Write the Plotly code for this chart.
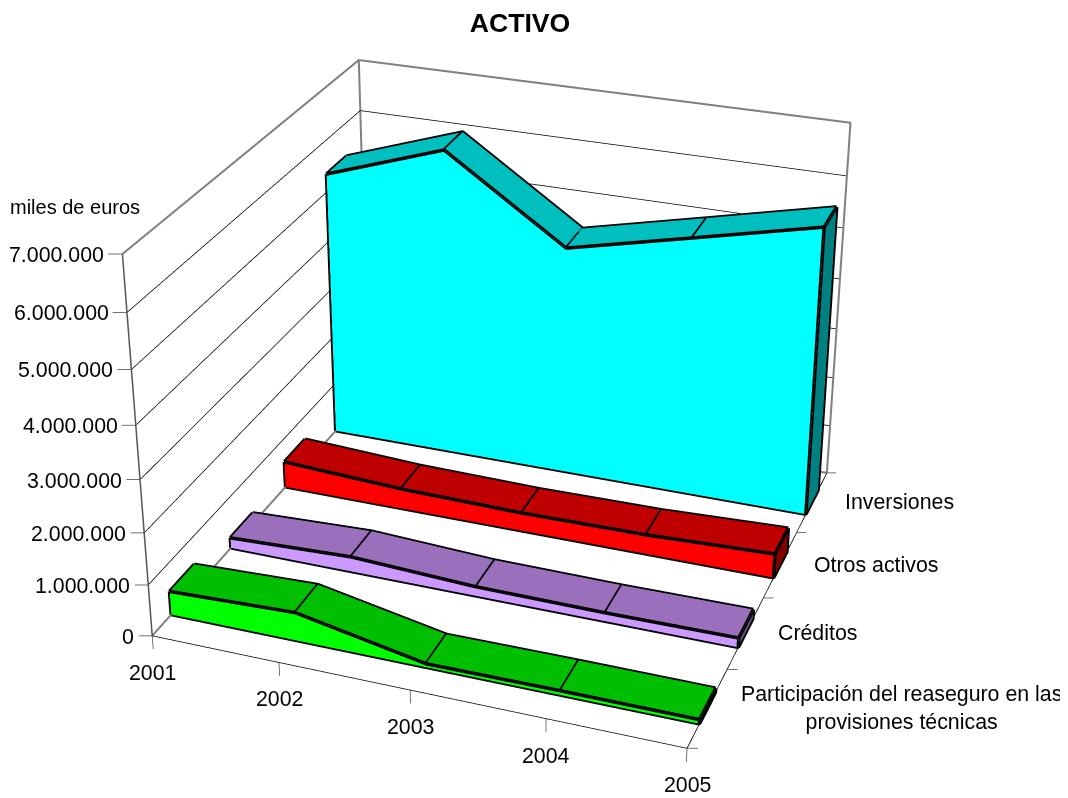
import plotly.graph_objects as go

years = [2001, 2002, 2003, 2004, 2005]
categorias = ["Participación del reaseguro en las<br>provisiones técnicas", "Créditos", "Otros activos", "Inversiones"]
participacion = [462000, 549000, 70000, 84000, 81000]
creditos = [207000, 298000, 185000, 168000, 185000]
otros = [528000, 410000, 371000, 392000, 483000]
inversiones = [5348000, 6143000, 4578000, 5131000, 5688000]
series = [participacion, creditos, otros, inversiones]
front = ["#00FF00", "#CC99FF", "#FF0000", "#00FFFF"]
top = ["#00BF00", "#9A70BD", "#BF0000", "#00BFBF"]
side = ["#008000", "#664D80", "#800000", "#008080"]
z_ticks = [0, 1000000, 2000000, 3000000, 4000000, 5000000, 6000000, 7000000]
z_labels = ["0", "1.000.000", "2.000.000", "3.000.000", "4.000.000", "5.000.000", "6.000.000", "7.000.000"]
depth = 0.2
zmax = 7000000
y_edges = [0, 1, 2, 3, 4]

# page geometry of the scene (viewport height sets the 3D scale)
LW, LH, TOP = 1068, 2048, 658
CX = 500.7

fig = go.Figure()
light = dict(ambient=1, diffuse=0, specular=0, roughness=1, fresnel=0)


def quadmesh(X, Y, Z, col):
    I, J, K = [], [], []
    for q in range(0, len(X), 4):
        I += [q, q]
        J += [q + 1, q + 2]
        K += [q + 2, q + 3]
    fig.add_trace(go.Mesh3d(x=X, y=Y, z=Z, i=I, j=J, k=K, color=col, flatshading=True,
                            lighting=light, hoverinfo="skip"))


def polyline(lx, ly, lz, color, width):
    fig.add_trace(go.Scatter3d(x=lx, y=ly, z=lz, mode="lines", line=dict(color=color, width=width), hoverinfo="skip"))


# walls: grid, frame, axes, ticks
gx, gy, gz = [], [], []
for z in z_ticks[1:-1]:
    gx += [2001, 2001, 2005, None]
    gy += [0, 4, 4, None]
    gz += [z, z, z, None]
polyline(gx, gy, gz, "black", 1.5)
polyline([2001, 2001, 2005, 2005, None, 2001, 2001, None, 2001, 2001, 2005],
         [0, 4, 4, 4, None, 0, 4, None, 4, 4, 4],
         [zmax, zmax, zmax, 0, None, 0, 0, None, zmax, 0, 0], "#808080", 4)
polyline([2001, 2001], [0, 0], [0, zmax], "#555555", 3)
polyline([2001, 2005, 2005], [0, 0, 4], [0, 0, 0], "black", 1.5)
tx, ty, tz = [], [], []
for z in z_ticks:
    tx += [2001, 2001 - 0.09, None]
    ty += [0, -0.033, None]
    tz += [z, z, None]
for yr in years:
    tx += [yr, yr, None]
    ty += [0, 0, None]
    tz += [0, -260000, None]
for e in y_edges:
    tx += [2005, 2005 + 0.07, None]
    ty += [e, e + 0.027, None]
    tz += [0, 0, None]
polyline(tx, ty, tz, "#444444", 1.5)

# ribbons
for n, vals in enumerate(series):
    y0 = n + .5 - depth
    y1 = n + .5 + depth
    X, Y, Z = [], [], []
    for i in range(4):
        X += [years[i], years[i + 1], years[i + 1], years[i]]
        Y += [y0] * 4
        Z += [0, 0, vals[i + 1], vals[i]]
    quadmesh(X, Y, Z, front[n])
    X, Y, Z = [], [], []
    for i in range(4):
        X += [years[i], years[i + 1], years[i + 1], years[i]]
        Y += [y0, y0, y1, y1]
        Z += [vals[i], vals[i + 1], vals[i + 1], vals[i]]
    quadmesh(X, Y, Z, top[n])
    quadmesh([2005] * 4, [y0, y1, y1, y0], [0, 0, vals[4], vals[4]], side[n])
    lx = list(years) + [2005, 2001, 2001, None] + list(years) + [None]
    ly = [y0] * 5 + [y0, y0, y0, None] + [y1] * 5 + [None]
    lz = list(vals) + [0, 0, vals[0], None] + list(vals) + [None]
    for i in range(5):
        lx += [years[i], years[i], None]
        ly += [y0, y1, None]
        lz += [vals[i], vals[i], None]
    lx += [2005, 2005, 2005]
    ly += [y0, y1, y1]
    lz += [0, 0, vals[4]]
    polyline(lx, ly, lz, "black", 7)

fs = 21.33
ann = []
for z, t in zip(z_ticks, z_labels):
    ann.append(dict(x=2001, y=0, z=z, text=t, showarrow=False, xanchor="right", yanchor="middle",
                    xshift=-16, yshift=-1, font=dict(size=fs)))
for yr in years:
    ann.append(dict(x=yr, y=0, z=0, text=str(yr), showarrow=False, xanchor="center", yanchor="middle",
                    yshift=-37, font=dict(size=fs)))
shifts = [194, 72, 95, 87]
for n, c in enumerate(categorias):
    ann.append(dict(x=2005, y=n + .5, z=0, text=c, showarrow=False, xanchor="center", yanchor="middle",
                    xshift=shifts[n], font=dict(size=fs)))

hidden = dict(visible=False, showspikes=False)
fig.update_layout(
    width=LW, height=LH, margin=dict(l=0, r=0, t=0, b=0), showlegend=False, paper_bgcolor="white",
    font=dict(family="Liberation Sans, Arial", color="black"),
    title=dict(text="<b>ACTIVO</b>", x=(520 - 8) / LW, y=1 - (23 - 8 + TOP) / LH, xanchor="center", yanchor="middle",
               font=dict(size=26.67, color="black")),
    annotations=[dict(text="miles de euros", x=(75 - 8) / LW, y=1 - (207 - 8 + TOP) / LH, xref="paper", yref="paper",
                      xanchor="center", yanchor="middle", showarrow=False, font=dict(size=20))],
    scene=dict(
        domain=dict(x=[0, 2 * CX / LW], y=[0, 1]), aspectmode="manual",
        aspectratio=dict(x=0.570 * 5 / 4, y=0.569 * 5 / 4, z=0.429 * 7.8 / 7),
        camera=dict(eye=dict(x=0.788, y=-2.163, z=1.180), center=dict(x=0, y=0, z=0), up=dict(x=0, y=0, z=1)),
        annotations=ann, bgcolor="white",
        xaxis=dict(hidden, range=[2000.5, 2005.5]),
        yaxis=dict(hidden, range=[-0.5, 4.5]),
        zaxis=dict(hidden, range=[-400000, 7400000])))
fig.write_html("out.html", post_script="var g=document.getElementById('{plot_id}');g.style.position='relative';g.style.top='-%dpx';" % TOP)
